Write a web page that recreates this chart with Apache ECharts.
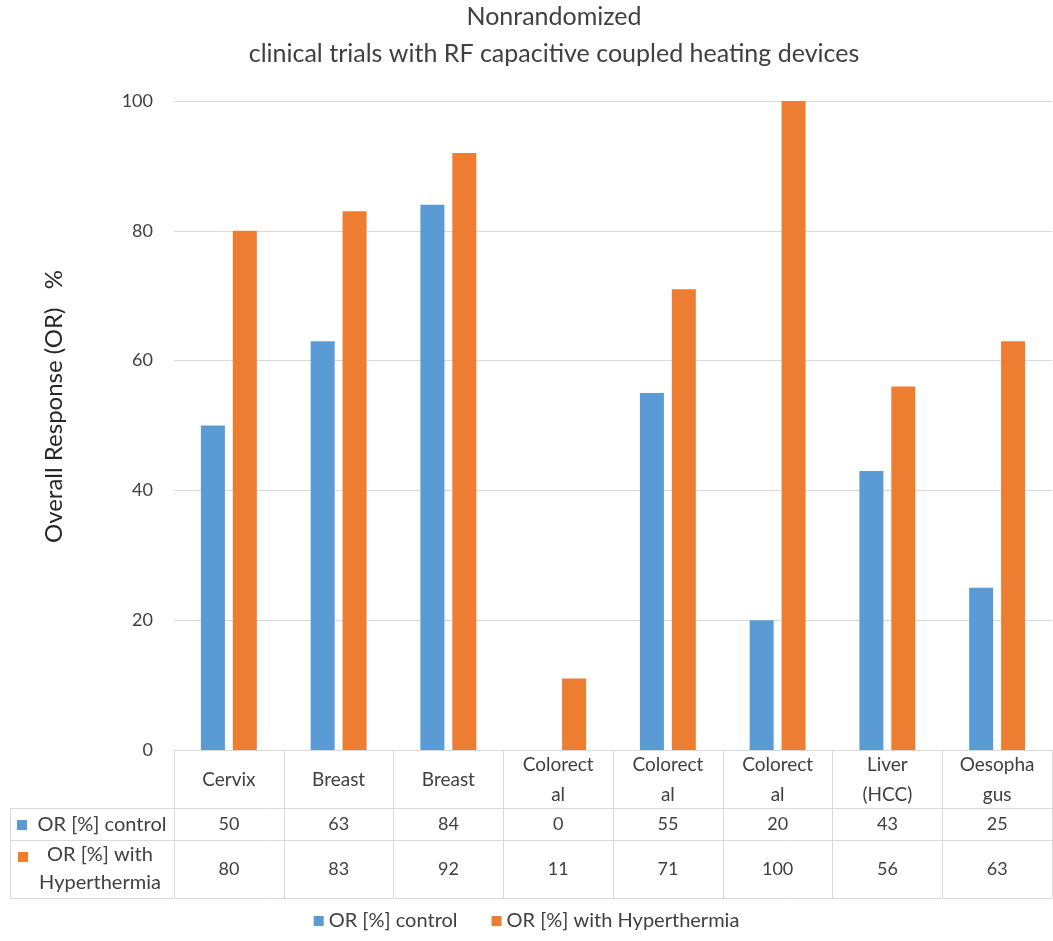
<!DOCTYPE html>
<html>
<head>
<meta charset="utf-8">
<script src="https://cdn.jsdelivr.net/npm/echarts@6/dist/echarts.min.js"></script>
<style>html,body{margin:0;padding:0;background:#fff}#chart{width:1053px;height:941px}</style>
</head>
<body>
<div id="chart"></div>
<script>
const titleLines = ['Nonrandomized', 'clinical trials with RF capacitive coupled heating devices'];
const categories = ['Cervix', 'Breast', 'Breast', 'Colorect\nal', 'Colorect\nal', 'Colorect\nal', 'Liver\n(HCC)', 'Oesopha\ngus'];
const seriesNames = ['OR [%] control', 'OR [%] with Hyperthermia'];
const tableRowLabels = ['OR [%] control', 'OR [%] with\nHyperthermia'];
const controlValues = [50, 63, 84, 0, 55, 20, 43, 25];
const hyperValues = [80, 83, 92, 11, 71, 100, 56, 63];
const yTicks = [0, 20, 40, 60, 80, 100];
const yAxisName = 'Overall Response (OR)   %';

const colors = ['#5B9BD5', '#ED7D31'];
const font = 'Lato, "Open Sans", sans-serif';
const txt = '#404040';
const lineCol = '#d9d9d9';
const fs = 18;

const chart = echarts.init(document.getElementById('chart'), null, {renderer: 'canvas'});

const baseX = {
  type: 'category', data: categories, gridIndex: 0, position: 'bottom',
  axisLine: {show: false}, axisTick: {show: false}, splitLine: {show: false}
};

chart.setOption({
  backgroundColor: '#fff',
  color: colors,
  animation: false,
  title: {
    text: titleLines.join('\n'),
    left: 554, top: -2, padding: 0, textAlign: 'center',
    textStyle: {fontFamily: font, fontSize: 25, fontWeight: 'normal', color: txt, lineHeight: 37}
  },
  legend: {
    data: seriesNames, top: 906, left: 'center',
    itemWidth: 10, itemHeight: 10, itemGap: 34, icon: 'rect',
    textStyle: {fontFamily: font, fontSize: 20, color: txt}
  },
  grid: {left: 174, right: 1, top: 101, bottom: 191, containLabel: false},
  xAxis: [
    Object.assign({}, baseX, {
      axisLine: {show: true, lineStyle: {color: lineCol, width: 1}},
      axisTick: {show: true, length: 148, interval: 0, lineStyle: {color: lineCol}},
      axisLabel: {interval: 0, margin: 30, verticalAlign: 'middle', lineHeight: 30,
        fontFamily: font, fontSize: 19, color: txt}
    }),
    Object.assign({}, baseX, {
      axisLabel: {interval: 0, margin: 74, verticalAlign: 'middle',
        fontFamily: font, fontSize: fs, color: txt,
        formatter: (v, i) => String(controlValues[i])}
    }),
    Object.assign({}, baseX, {
      axisLabel: {interval: 0, margin: 119, verticalAlign: 'middle',
        fontFamily: font, fontSize: fs, color: txt,
        formatter: (v, i) => String(hyperValues[i])}
    })
  ],
  yAxis: {
    type: 'value', min: yTicks[0], max: yTicks[yTicks.length - 1], interval: 20,
    name: yAxisName, nameLocation: 'middle', nameGap: 108, nameRotate: 90,
    nameTextStyle: {fontFamily: font, fontSize: 24, color: '#262626', padding: [0, 0, 0, 38]},
    axisLine: {show: false}, axisTick: {show: false},
    axisLabel: {margin: 21, fontFamily: font, fontSize: fs, color: txt},
    splitLine: {lineStyle: {color: lineCol, width: 1}}
  },
  series: [
    {name: seriesNames[0], type: 'bar', data: controlValues, barWidth: 24, barGap: '33%', xAxisIndex: 0},
    {name: seriesNames[1], type: 'bar', data: hyperValues, barWidth: 24, barGap: '33%', xAxisIndex: 0}
  ],
  graphic: [
    {type: 'line', shape: {x1: 10, y1: 808.5, x2: 1052, y2: 808.5}, style: {stroke: lineCol, lineWidth: 1}, silent: true},
    {type: 'line', shape: {x1: 10, y1: 840.5, x2: 1052, y2: 840.5}, style: {stroke: lineCol, lineWidth: 1}, silent: true},
    {type: 'line', shape: {x1: 10, y1: 898.5, x2: 1052, y2: 898.5}, style: {stroke: lineCol, lineWidth: 1}, silent: true},
    {type: 'line', shape: {x1: 10.5, y1: 808, x2: 10.5, y2: 899}, style: {stroke: lineCol, lineWidth: 1}, silent: true},
    {type: 'rect', shape: {x: 17, y: 820, width: 10, height: 10}, style: {fill: colors[0]}, silent: true},
    {type: 'text', style: {text: tableRowLabels[0], x: 102, y: 825, textAlign: 'center', textVerticalAlign: 'middle',
      font: '20px ' + font, fill: txt}, silent: true},
    {type: 'rect', shape: {x: 18, y: 852, width: 10, height: 10}, style: {fill: colors[1]}, silent: true},
    {type: 'text', style: {text: tableRowLabels[1], x: 100, y: 869, textAlign: 'center', textVerticalAlign: 'middle',
      font: '20px ' + font, fill: txt, lineHeight: 28}, silent: true}
  ]
});
</script>
</body>
</html>
